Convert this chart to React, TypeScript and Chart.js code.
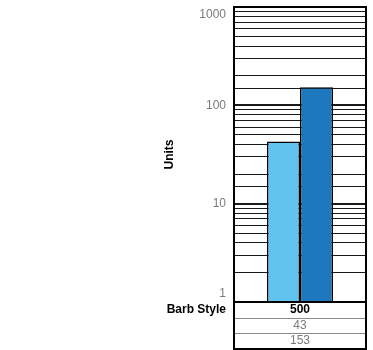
import React, { useEffect, useRef } from "react";
import { Chart, registerables } from "chart.js";

Chart.register(...registerables);

const categories = ["500"];
const rowLabel = "Barb Style";
const seriesA = [43];
const seriesB = [153];
const tickLabels = [1, 10, 100, 1000];
const axisTitle = "Units";

const FONT = "'Liberation Sans', Arial, sans-serif";

const overlay = {
  id: "overlay",
  afterDraw(chart: any) {
    const { ctx, chartArea: a, scales } = chart;
    const y = scales.y;
    ctx.save();
    // tick labels
    ctx.font = `12px ${FONT}`;
    ctx.fillStyle = "#7a7a7a";
    ctx.textAlign = "right";
    ctx.textBaseline = "middle";
    tickLabels.forEach((v) => {
      let py = y.getPixelForValue(v);
      py = Math.max(a.top + 8, Math.min(a.bottom - 8, py));
      ctx.fillText(String(v), a.left - 8, py);
    });
    // axis title
    ctx.save();
    ctx.translate(170, (a.top + a.bottom) / 2);
    ctx.rotate(-Math.PI / 2);
    ctx.font = `bold 12px ${FONT}`;
    ctx.fillStyle = "#000";
    ctx.textAlign = "center";
    ctx.textBaseline = "middle";
    ctx.fillText(axisTitle, 0, 0);
    ctx.restore();
    // plot border
    ctx.strokeStyle = "#000";
    ctx.lineWidth = 2;
    ctx.strokeRect(a.left, a.top, a.right - a.left, a.bottom - a.top);
    // table
    const rowH = (chart.height - 1 - a.bottom) / 3;
    const cx = (a.left + a.right) / 2;
    ctx.strokeStyle = "#8a8a8a";
    ctx.lineWidth = 1;
    for (let i = 1; i < 3; i++) {
      const ry = Math.round(a.bottom + rowH * i) + 0.5;
      ctx.beginPath();
      ctx.moveTo(a.left, ry);
      ctx.lineTo(a.right, ry);
      ctx.stroke();
    }
    ctx.strokeStyle = "#000";
    ctx.lineWidth = 2;
    ctx.strokeRect(a.left, a.bottom, a.right - a.left, rowH * 3);
    ctx.textAlign = "center";
    ctx.textBaseline = "middle";
    ctx.font = `bold 12px ${FONT}`;
    ctx.fillStyle = "#000";
    ctx.fillText(categories[0], cx, a.bottom + rowH * 0.5);
    ctx.font = `12px ${FONT}`;
    ctx.fillStyle = "#7a7a7a";
    ctx.fillText(String(seriesA[0]), cx, a.bottom + rowH * 1.5);
    ctx.fillText(String(seriesB[0]), cx, a.bottom + rowH * 2.5);
    ctx.textAlign = "right";
    ctx.font = `bold 12px ${FONT}`;
    ctx.fillStyle = "#000";
    ctx.fillText(rowLabel, a.left - 8, a.bottom + rowH * 0.5);
    ctx.restore();
  },
};

export default function App() {
  const ref = useRef<HTMLCanvasElement>(null);
  useEffect(() => {
    const chart = new Chart(ref.current as HTMLCanvasElement, {
      type: "bar",
      data: {
        labels: categories,
        datasets: [
          {
            data: seriesA,
            backgroundColor: "#62C4EE",
            borderColor: "#000",
            borderWidth: 1.5,
            categoryPercentage: 0.5,
            barPercentage: 1,
          },
          {
            data: seriesB,
            backgroundColor: "#1E78BE",
            borderColor: "#000",
            borderWidth: 1.5,
            categoryPercentage: 0.5,
            barPercentage: 1,
          },
        ],
      },
      options: {
        animation: false,
        responsive: false,
        layout: { padding: { top: 7, right: 7, bottom: 48, left: 0 } },
        plugins: { legend: { display: false }, tooltip: { enabled: false } },
        scales: {
          x: { display: false },
          y: {
            type: "logarithmic",
            min: 1,
            max: 1000,
            afterFit: (s: any) => {
              s.width = 234;
            },
            border: { display: false },
            grid: {
              drawTicks: false,
              color: "#1a1a1a",
              lineWidth: (c: any) => {
                const v = c.tick ? c.tick.value : 0;
                const l = Math.log10(v);
                return Math.abs(l - Math.round(l)) < 1e-9 ? 2 : 1;
              },
            },
            ticks: {
              display: false,
              autoSkip: false,
            },
          },
        },
      },
      plugins: [overlay],
    } as any);
    return () => chart.destroy();
  }, []);
  return (
    <div style={{ position: "fixed", left: 0, top: 0, width: 373, height: 350 }}>
      <canvas ref={ref} width={373} height={350} style={{ display: "block" }} />
    </div>
  );
}
